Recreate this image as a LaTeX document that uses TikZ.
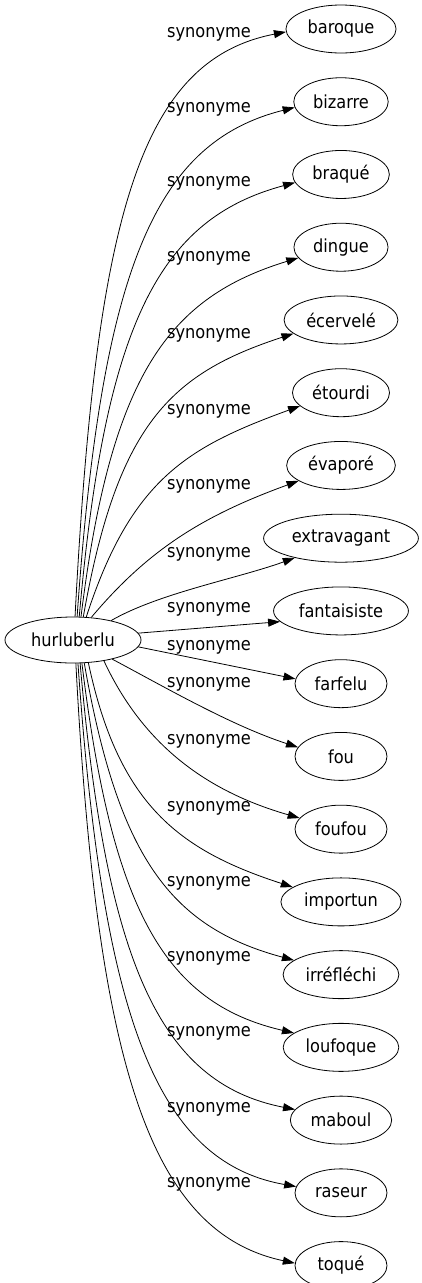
\documentclass[tikz,border=0pt]{standalone}
\usepackage{fontspec}
\setmainfont{DejaVu Sans Condensed}
\usetikzlibrary{arrows.meta,positioning,shapes.geometric}

\begin{document}
\begin{tikzpicture}[
  x=1pt, y=1pt, line width=0.8pt,
  word/.style = {draw, ellipse, font=\fontsize{18}{21}\selectfont,
    inner xsep=5.5pt, inner ysep=2pt, minimum width=92pt, minimum height=48pt},
  lbl/.style = {font=\fontsize{18}{21}\selectfont, inner sep=0pt},
  arr/.style = {-{Triangle[length=12pt,width=8pt]}},
]
\useasboundingbox[fill=white] (0,0) rectangle (422,-1283);
\node[word, minimum width=136pt, minimum height=46pt] (hurl) at (73,-640) {hurluberlu};
\node[word] (baroque) at (341,-29) {baroque};
\node[word, below=23.94pt of baroque] (bizarre) {bizarre};
\node[word, below=23.94pt of bizarre] (braque) {braqué};
\node[word, below=23.94pt of braque] (dingue) {dingue};
\node[word, below=23.94pt of dingue] (ecervele) {écervelé};
\node[word, below=23.94pt of ecervele] (etourdi) {étourdi};
\node[word, below=23.94pt of etourdi] (evapore) {évaporé};
\node[word, below=23.94pt of evapore] (extravagant) {extravagant};
\node[word, below=23.94pt of extravagant] (fantaisiste) {fantaisiste};
\node[word, below=23.94pt of fantaisiste] (farfelu) {farfelu};
\node[word, below=23.94pt of farfelu] (fou) {fou};
\node[word, below=23.94pt of fou] (foufou) {foufou};
\node[word, below=23.94pt of foufou] (importun) {importun};
\node[word, below=23.94pt of importun] (irreflechi) {irréfléchi};
\node[word, below=23.94pt of irreflechi] (loufoque) {loufoque};
\node[word, below=23.94pt of loufoque] (maboul) {maboul};
\node[word, below=23.94pt of maboul] (raseur) {raseur};
\node[word, below=23.94pt of raseur] (toque) {toqué};
% edge labels
\node[lbl] (sbaroque) at (209,-34) {synonyme};
\node[lbl] (sbizarre) at (209,-109) {synonyme};
\node[lbl] (sbraque) at (209,-183) {synonyme};
\node[lbl] (sdingue) at (209,-258) {synonyme};
\node[lbl] (secervele) at (209,-335) {synonyme};
\node[lbl] (setourdi) at (209,-411) {synonyme};
\node[lbl] (sevapore) at (209,-486) {synonyme};
\node[lbl] (sextravagant) at (209,-554) {synonyme};
\node[lbl] (sfantaisiste) at (209,-609) {synonyme};
\node[lbl] (sfarfelu) at (209,-647) {synonyme};
\node[lbl] (sfou) at (209,-684) {synonyme};
\node[lbl] (sfoufou) at (209,-741) {synonyme};
\node[lbl] (simportun) at (209,-808) {synonyme};
\node[lbl] (sirreflechi) at (209,-883) {synonyme};
\node[lbl] (sloufoque) at (209,-958) {synonyme};
\node[lbl] (smaboul) at (209,-1033) {synonyme};
\node[lbl] (sraseur) at (209,-1109) {synonyme};
\node[lbl] (stoque) at (209,-1184) {synonyme};
% edges
\draw[arr] (hurl.85) .. controls +(87:398) and +(191:150) .. (baroque.183);
\draw[arr] (hurl.80) .. controls +(86:347) and +(194:145) .. (bizarre.187);
\draw[arr] (hurl.75) .. controls +(85:296) and +(195:140) .. (braque.190);
\draw[arr] (hurl.71) .. controls +(83:245) and +(197:135) .. (dingue.194);
\draw[arr] (hurl.66) .. controls +(80:195) and +(198:130) .. (ecervele.196);
\draw[arr] (hurl.60) .. controls +(72:145) and +(200:120) .. (etourdi.198);
\draw[arr] (hurl.51) .. controls +(50:90) and +(200:100) .. (evapore.200);
\draw[arr] (hurl.27) .. controls +(30:55) and +(200:60) .. (extravagant.203);
\draw[arr] (hurl.6) -- (fantaisiste.190);
\draw[arr] (hurl.-6) -- (farfelu.174);
\draw[arr] (hurl.-26) .. controls +(-28:60) and +(162:70) .. (fou.168);
\draw[arr] (hurl.-34) .. controls +(-65:90) and +(164:100) .. (foufou.165);
\draw[arr] (hurl.-56) .. controls +(-78:145) and +(162:120) .. (importun.163);
\draw[arr] (hurl.-64) .. controls +(-80:194) and +(165:130) .. (irreflechi.163);
\draw[arr] (hurl.-69) .. controls +(-83:245) and +(167:135) .. (loufoque.163);
\draw[arr] (hurl.-73) .. controls +(-85:296) and +(169:140) .. (maboul.167);
\draw[arr] (hurl.-78) .. controls +(-86:347) and +(170:145) .. (raseur.172);
\draw[arr] (hurl.-83) .. controls +(-87:398) and +(168:150) .. (toque.177);
\end{tikzpicture}
\end{document}
